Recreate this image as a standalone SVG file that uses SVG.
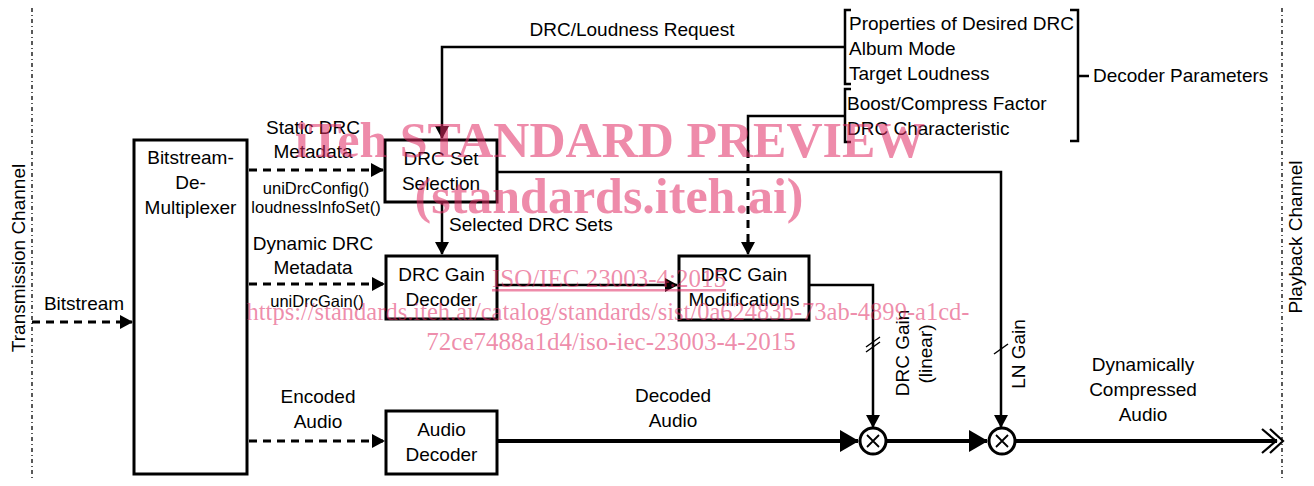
<svg xmlns="http://www.w3.org/2000/svg" width="1314" height="486" viewBox="0 0 1314 486">
<style>
text{font-family:"Liberation Sans",Arial,sans-serif;font-size:19px;fill:#000}
.c{text-anchor:middle}
.s{font-size:16.5px}
.box{fill:#fff;stroke:#000;stroke-width:3}
.ln{fill:none;stroke:#000;stroke-width:2.5}
.dash{fill:none;stroke:#000;stroke-width:3;stroke-dasharray:8 6}
.main{fill:none;stroke:#000;stroke-width:4}
.dot{fill:none;stroke:#000;stroke-width:1.3;stroke-dasharray:4 3 1 3}
text.wm{font-family:"Liberation Serif","Times New Roman",serif;fill:#e02c64;fill-opacity:0.55;font-size:25px}
text.wmb{font-size:50px;font-weight:bold}
text.ul{text-decoration:underline}
</style>
<defs>
<marker id="a" markerUnits="userSpaceOnUse" markerWidth="13" markerHeight="14" refX="12" refY="7" orient="auto"><path d="M0,0 L13,7 L0,14 z" fill="#000"/></marker>
<marker id="b" markerUnits="userSpaceOnUse" markerWidth="19" markerHeight="22" refX="18" refY="11" orient="auto"><path d="M0,0 L19,11 L0,22 z" fill="#000"/></marker>
</defs>

<g id="channels">
<line class="dot" x1="32" y1="8" x2="32" y2="478"/>
<line class="dot" x1="1282" y1="8" x2="1282" y2="478"/>
<text class="c" transform="translate(25,258) rotate(-90)">Transmission Channel</text>
<text class="c" transform="translate(1302,237) rotate(-90)">Playback Channel</text>
</g>

<g id="demux">
<rect class="box" x="134" y="140" width="113" height="334"/>
<text class="c" x="190.5" y="164">Bitstream-</text>
<text class="c" x="190.5" y="189">De-</text>
<text class="c" x="190.5" y="214">Multiplexer</text>
</g>

<g id="drcSetSelection">
<rect class="box" x="385" y="140" width="112" height="62"/>
<text class="c" x="441" y="165">DRC Set</text>
<text class="c" x="441" y="190">Selection</text>
</g>

<g id="drcGainDecoder">
<rect class="box" x="386" y="256" width="111" height="63"/>
<text class="c" x="441.5" y="281">DRC Gain</text>
<text class="c" x="441.5" y="306">Decoder</text>
</g>

<g id="audioDecoder">
<rect class="box" x="386" y="411" width="111" height="63"/>
<text class="c" x="441.5" y="436">Audio</text>
<text class="c" x="441.5" y="461">Decoder</text>
</g>

<g id="drcGainModifications">
<rect class="box" x="679" y="256" width="130" height="64"/>
<text class="c" x="744" y="281">DRC Gain</text>
<text class="c" x="744" y="306">Modifications</text>
</g>

<g id="mult1">
<circle cx="873" cy="441" r="13" fill="#fff" stroke="#000" stroke-width="3"/>
<path d="M867,435 L879,447 M879,435 L867,447" stroke="#000" stroke-width="1.8"/>
</g>
<g id="mult2">
<circle cx="1002" cy="441" r="13" fill="#fff" stroke="#000" stroke-width="3"/>
<path d="M996,435 L1008,447 M1008,435 L996,447" stroke="#000" stroke-width="1.8"/>
</g>

<g id="decoderParameters">
<path class="ln" d="M851,10 L845,10 L845,84 L851,84" stroke-width="3"/>
<path class="ln" d="M851,89 L845,89 L845,142 L851,142" stroke-width="3"/>
<path class="ln" d="M1070,10 L1078,10 L1078,141 L1070,141 M1078,76 L1089,76" stroke-width="3"/>
<text x="849" y="30">Properties of Desired DRC</text>
<text x="849" y="55">Album Mode</text>
<text x="849" y="80">Target Loudness</text>
<text x="847" y="110">Boost/Compress Factor</text>
<text x="847" y="135">DRC Characteristic</text>
<text x="1093" y="82">Decoder Parameters</text>
</g>

<g id="connectors">
<line class="dash" x1="32" y1="322" x2="132" y2="322" marker-end="url(#a)"/>
<line class="dash" x1="249" y1="170" x2="383" y2="170" marker-end="url(#a)"/>
<line class="dash" x1="249" y1="284" x2="384" y2="284" marker-end="url(#a)"/>
<line class="dash" x1="249" y1="441" x2="384" y2="441" marker-end="url(#a)"/>
<path class="ln" d="M845,47 L442,47 L442,138" marker-end="url(#a)"/>
<path class="ln" d="M442,202 L442,254" marker-end="url(#a)"/>
<path class="ln" d="M497,285 L677,285" marker-end="url(#a)"/>
<path class="ln" d="M845,116 L748,116 L748,150"/>
<path class="dash" d="M748,150 L748,242" stroke-width="2.5"/>
<path class="ln" d="M748,240 L748,254" marker-end="url(#a)"/>
<path class="ln" d="M497,172 L1001,172 L1001,427" marker-end="url(#a)"/>
<path class="ln" d="M809,285 L873,285 L873,427" marker-end="url(#a)"/>
<path d="M866,347 L880,337 M866,352 L880,342" stroke="#000" stroke-width="1.5"/>
<path d="M994,354 L1008,344" stroke="#000" stroke-width="1.5"/>
<path class="main" d="M497,441 L858,441" marker-end="url(#b)"/>
<path class="main" d="M886,441 L987,441" marker-end="url(#b)"/>
<path class="main" d="M1015,441 L1277,441"/>
<path d="M1262,429 L1276,441 L1262,453 M1270,429 L1283,441 L1270,453" fill="none" stroke="#000" stroke-width="2.2"/>
</g>

<g id="labels">
<text class="c" x="632" y="36">DRC/Loudness Request</text>
<text class="c" x="313" y="134">Static DRC</text>
<text class="c" x="313" y="158">Metadata</text>
<text class="c s" x="316" y="194">uniDrcConfig()</text>
<text class="c s" x="316" y="213">loudnessInfoSet()</text>
<text class="c" x="313" y="250">Dynamic DRC</text>
<text class="c" x="313" y="274">Metadata</text>
<text class="c s" x="317" y="307">uniDrcGain()</text>
<text class="c" x="84" y="310">Bitstream</text>
<text class="c" x="318" y="403">Encoded</text>
<text class="c" x="318" y="428">Audio</text>
<text x="449" y="231">Selected DRC Sets</text>
<text class="c" x="673" y="402">Decoded</text>
<text class="c" x="673" y="427">Audio</text>
<text class="c" x="1143" y="371">Dynamically</text>
<text class="c" x="1143" y="396">Compressed</text>
<text class="c" x="1143" y="421">Audio</text>
<text class="c" transform="translate(909,353) rotate(-90)">DRC Gain</text>
<text class="c" transform="translate(932,354) rotate(-90)">(linear)</text>
<text class="c" transform="translate(1025,354) rotate(-90)">LN Gain</text>
</g>

<g id="watermark">
<text class="wm wmb c" x="610" y="157">iTeh STANDARD PREVIEW</text>
<text class="wm wmb c" x="609" y="213">(standards.iteh.ai)</text>
<text class="wm ul c" x="609" y="287">ISO/IEC 23003-4:2015</text>
<text class="wm c" x="608" y="320" textLength="723" lengthAdjust="spacingAndGlyphs">https://standards.iteh.ai/catalog/standards/sist/0a62483b-73ab-4899-a1cd-</text>
<text class="wm c" x="611" y="350">72ce7488a1d4/iso-iec-23003-4-2015</text>
</g>
</svg>
